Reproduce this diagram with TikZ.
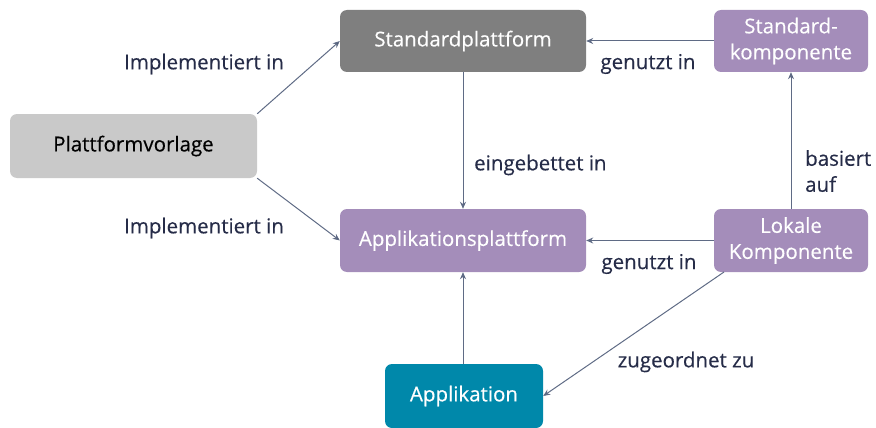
\documentclass[tikz,border=0pt]{standalone}
\usepackage{fontspec}
\setmainfont{Open Sans}[FakeBold=0.35]
\usetikzlibrary{arrows.meta}
\definecolor{dgrey}{HTML}{7F7F7F}
\definecolor{lgrey}{HTML}{C9C9C9}
\definecolor{purp}{HTML}{A48DBA}
\definecolor{teal}{HTML}{0088AA}
\definecolor{linec}{HTML}{5F6B85}
\definecolor{txt}{HTML}{262C48}
\begin{document}
\begin{tikzpicture}[x=1pt,y=-1pt,
  box/.style={rounded corners=7pt, minimum height=62pt, align=center, font=\fontsize{20.5}{26}\selectfont, inner sep=0pt},
  conn/.style={draw=linec, line width=1pt, -{Stealth[length=7pt,width=6pt,fill=txt]}},
  lbl/.style={text=txt, font=\fontsize{20.5}{26}\selectfont, inner sep=0pt}]
\useasboundingbox (0,0) rectangle (876,428);
\node[box, fill=dgrey, text=white, minimum width=246pt] (sp) at (463,41) {Standardplattform};
\node[box, fill=purp, text=white, minimum width=154pt] (sk) at (791,41) {Standard-\\komponente};
\node[box, fill=lgrey, text=black, minimum width=247pt, minimum height=64pt] (pv) at (133.5,146) {Plattformvorlage};
\node[box, fill=purp, text=white, minimum width=246pt, minimum height=63pt] (ap) at (463,240.5) {Applikationsplattform};
\node[box, fill=purp, text=white, minimum width=154pt, minimum height=63pt] (lk) at (791,240.5) {Lokale\\Komponente};
\node[box, fill=teal, text=white, minimum width=158pt, minimum height=64pt] (app) at (464,396) {Applikation};
\draw[conn] (pv.north east) -- (sp.west);
\draw[conn] (pv.south east) -- (ap.west);
\draw[conn] (sp.south) -- (ap.north);
\draw[conn] (sk.west) -- (sp.east);
\draw[conn] (lk.north) -- (sk.south);
\draw[conn] (lk.west) -- (ap.east);
\draw[conn] (app.north -| ap.south) -- (ap.south);
\coordinate (lks) at (724,272);
\draw[conn] (lks) -- (app.east);
\node[lbl] (l1) at (204,64) {Implementiert in};
\node[lbl] (l2) at (204,228) {Implementiert in};
\node[lbl] (l3) at (648,64) {genutzt in};
\node[lbl] (l4) at (649,264) {genutzt in};
\node[lbl, anchor=west] (l5) at (474,165) {eingebettet in};
\node[lbl, anchor=north west, align=left] (l6) at (805,150) {basiert\\auf};
\node[lbl] (l7) at (686,362) {zugeordnet zu};
\end{tikzpicture}
\end{document}
